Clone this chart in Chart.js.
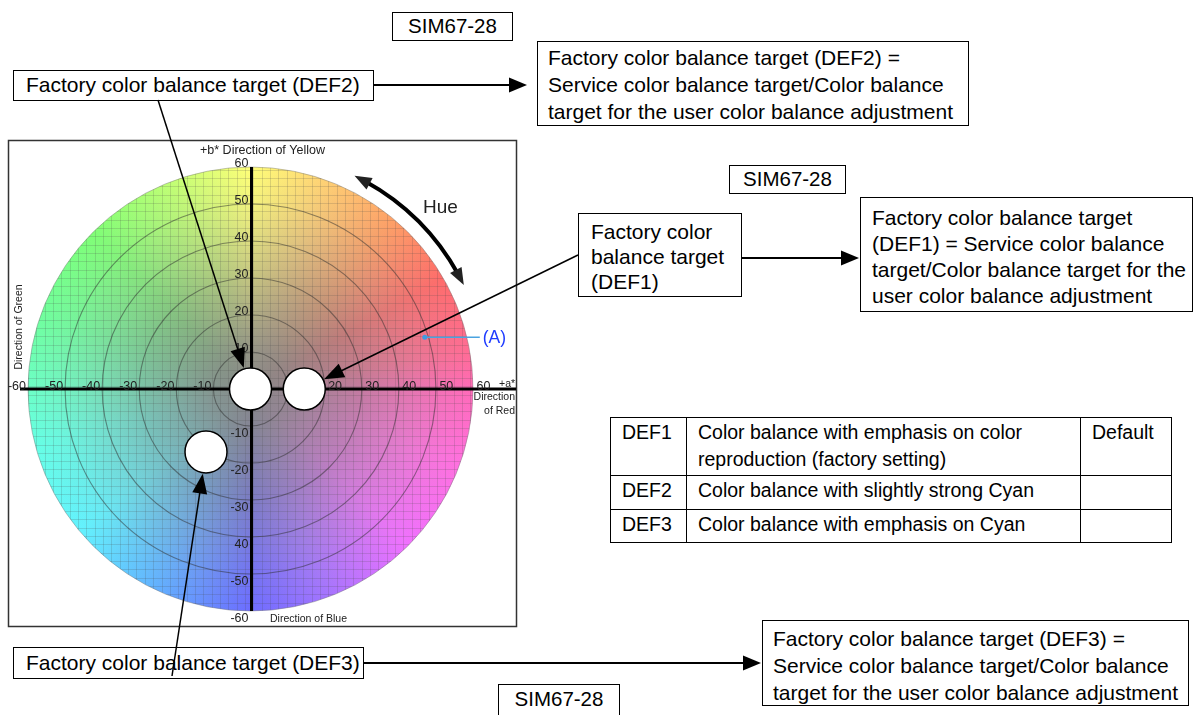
<!DOCTYPE html>
<html>
<head>
<meta charset="utf-8">
<script src="https://cdn.jsdelivr.net/npm/chart.js@4.4.1/dist/chart.umd.min.js"></script>
<style>
  html, body { margin: 0; padding: 0; background: #fff; }
  body { width: 1193px; height: 715px; position: relative; overflow: hidden;
         font-family: "Liberation Sans", Arial, Helvetica, sans-serif; color: #000; }
  #wheel { position: absolute; left: 0; top: 0; z-index: 2; pointer-events: none; }
  .box { position: absolute; border: 1.5px solid #000; box-sizing: border-box;
         font-size: 21px; white-space: nowrap; z-index: 1; }
  .sim { text-align: center; font-size: 20.5px; }
  .grid { position: absolute; left: 610px; top: 417px; width: 562px; height: 126px;
          border: 1.5px solid #000; box-sizing: border-box; z-index: 1;
          display: grid; grid-template-columns: 76px 394px 1fr; grid-template-rows: 58px 34px 1fr;
          font-size: 19.5px; line-height: 27px; }
  .grid div { border-right: 1px solid #000; border-bottom: 1px solid #000; padding: 1px 0 0 11px; white-space: nowrap; }
  .grid div.last { border-right: none; }
  .grid div.bottom { border-bottom: none; }
</style>
</head>
<body>
<canvas id="wheel" width="1193" height="715"></canvas>

<div class="box sim" style="left:392px;top:12px;width:121px;height:29px;line-height:26px;">SIM67-28</div>
<div class="box" style="left:537px;top:41px;width:432px;height:85px;line-height:27px;padding:2px 0 0 10px;">
  Factory color balance target (DEF2) =<br>Service color balance target/Color balance<br>target for the user color balance adjustment</div>
<div class="box" style="left:13px;top:70px;width:361px;height:31px;line-height:28px;padding-left:12px;">Factory color balance target (DEF2)</div>

<div class="box sim" style="left:729px;top:165px;width:117px;height:29px;line-height:26px;">SIM67-28</div>
<div class="box" style="left:578px;top:213px;width:164px;height:84px;line-height:25px;padding:5px 0 0 12px;">
  Factory color<br>balance target<br>(DEF1)</div>
<div class="box" style="left:860px;top:197px;width:333px;height:115px;line-height:26px;padding:7px 0 0 11px;">
  Factory color balance target<br>(DEF1) = Service color balance<br>target/Color balance target for the<br>user color balance adjustment</div>

<div class="grid">
  <div>DEF1</div><div>Color balance with emphasis on color<br>reproduction (factory setting)</div><div class="last">Default</div>
  <div>DEF2</div><div>Color balance with slightly strong Cyan</div><div class="last"></div>
  <div class="bottom">DEF3</div><div class="bottom">Color balance with emphasis on Cyan</div><div class="last bottom"></div>
</div>

<div class="box" style="left:13px;top:647px;width:351px;height:32px;line-height:29px;padding-left:12px;">Factory color balance target (DEF3)</div>
<div class="box" style="left:762px;top:620px;width:427px;height:86px;line-height:27px;padding:4px 0 0 10px;">
  Factory color balance target (DEF3) =<br>Service color balance target/Color balance<br>target for the user color balance adjustment</div>
<div class="box sim" style="left:498px;top:684px;width:122px;height:40px;line-height:28px;">SIM67-28</div>

<script>
// a*b* plane with the three factory colour balance targets
const targetNames = ['DEF1', 'DEF2', 'DEF3'];
const targetA = [14.5, 0, -12];
const targetB = [0, 0, -17];

// point (A) on the outer ring
const markA = [47];
const markB = [14];

const ringRadii = [10, 20, 30, 40, 50];
const wheelRadius = 60;
const hueRadius = 64;
const hueFrom = 26, hueTo = 64;   // degrees, counter-clockwise from +a*

const xTickValues = [-60, -50, -40, -30, -20, -10, 10, 20, 30, 40, 50, 60];
const xTickLabels = ['-60', '-50', '-40', '-30', '-20', '-10', '10', '20', '30', '40', '50', '60'];
const yTickValues = [60, 50, 40, 30, 20, 10, -10, -20, -30, -40, -50, -60];
const yTickLabels = ['60', '50', '40', '30', '20', '10', '-10', '-20', '-30', '40', '-50', '-60'];

// hue ring colours, clockwise from +a* (canvas angle, degrees)
const hueStops = [
  [0, '#ff6ab8'], [20, '#ff70e0'], [45, '#f070ff'], [70, '#a474ff'], [90, '#6c6cff'],
  [115, '#62b0ff'], [140, '#62f2ff'], [165, '#66ffe6'], [180, '#6cffc6'], [200, '#70ff9c'],
  [225, '#80ff76'], [250, '#c4ff74'], [270, '#ffff78'], [290, '#ffd074'], [310, '#ffa066'],
  [330, '#ff6c6a'], [350, '#ff6c94'], [360, '#ff6ab8']
];

// leaders from the text boxes to the targets, page pixels
const leaderStarts = [[578, 255], [158, 100], [172, 676]];
const sideArrows = [[373, 85, 527, 85], [741, 258, 859, 258], [363, 663, 761, 663]];

const targetRadius = 21;

function drawArrow(ctx, x1, y1, x2, y2, len, half, width) {
  const ang = Math.atan2(y2 - y1, x2 - x1);
  const c = Math.cos(ang), s = Math.sin(ang);
  ctx.lineWidth = width;
  ctx.beginPath();
  ctx.moveTo(x1, y1);
  ctx.lineTo(x2 - c * len * 0.8, y2 - s * len * 0.8);
  ctx.stroke();
  ctx.beginPath();
  ctx.moveTo(x2, y2);
  ctx.lineTo(x2 - len * c + half * s, y2 - len * s - half * c);
  ctx.lineTo(x2 - len * c - half * s, y2 - len * s + half * c);
  ctx.closePath();
  ctx.fill();
}

const wheelPlugin = {
  id: 'labWheel',
  beforeDraw(chart) {
    const ctx = chart.ctx;
    ctx.save();
    ctx.strokeStyle = '#333';
    ctx.lineWidth = 1.5;
    ctx.strokeRect(8.5, 140.5, 508, 486);
    ctx.restore();
  },
  beforeDatasetsDraw(chart) {
    const { ctx, scales: { x, y } } = chart;
    const cx = x.getPixelForValue(0), cy = y.getPixelForValue(0);
    const ux = x.getPixelForValue(1) - cx, uy = cy - y.getPixelForValue(1);
    const rx = wheelRadius * ux, ry = wheelRadius * uy;

    ctx.save();
    // hue disc
    const conic = ctx.createConicGradient(0, cx, cy);
    hueStops.forEach(([a, col]) => conic.addColorStop(a / 360, col));
    ctx.beginPath();
    ctx.ellipse(cx, cy, rx, ry, 0, 0, Math.PI * 2);
    ctx.fillStyle = conic;
    ctx.fill();
    // neutral grey towards the centre
    const rad = ctx.createRadialGradient(cx, cy, 0, cx, cy, rx);
    rad.addColorStop(0, 'rgba(136,136,136,1)');
    rad.addColorStop(0.18, 'rgba(136,136,136,0.88)');
    rad.addColorStop(0.5, 'rgba(138,138,138,0.5)');
    rad.addColorStop(0.85, 'rgba(160,160,160,0.12)');
    rad.addColorStop(1, 'rgba(170,170,170,0)');
    ctx.fillStyle = rad;
    ctx.fill();
    ctx.strokeStyle = 'rgba(120,120,120,0.45)';
    ctx.lineWidth = 1;
    ctx.stroke();

    // fine square grid inside the disc
    ctx.clip();
    ctx.strokeStyle = 'rgba(70,70,70,0.18)';
    ctx.lineWidth = 1;
    ctx.beginPath();
    for (let v = -60; v <= 60; v += 2.25) {
      const px = Math.round(x.getPixelForValue(v)) + 0.5;
      const py = Math.round(y.getPixelForValue(v)) + 0.5;
      ctx.moveTo(px, cy - ry); ctx.lineTo(px, cy + ry);
      ctx.moveTo(cx - rx, py); ctx.lineTo(cx + rx, py);
    }
    ctx.stroke();
    ctx.restore();

    // chroma rings
    ctx.save();
    ctx.strokeStyle = 'rgba(45,45,45,0.5)';
    ctx.lineWidth = 1.1;
    ringRadii.forEach(r => {
      ctx.beginPath();
      ctx.ellipse(cx, cy, r * ux, r * uy, 0, 0, Math.PI * 2);
      ctx.stroke();
    });
    ctx.restore();

    // axes
    ctx.save();
    ctx.strokeStyle = '#000';
    ctx.lineWidth = 3;
    ctx.beginPath();
    ctx.moveTo(cx + 1, y.getPixelForValue(wheelRadius));
    ctx.lineTo(cx + 1, y.getPixelForValue(-wheelRadius));
    ctx.stroke();
    ctx.beginPath();
    ctx.moveTo(20, cy);
    ctx.lineTo(516, cy);
    ctx.stroke();

    // tick labels
    ctx.fillStyle = '#222';
    ctx.font = '12.5px "Liberation Sans", Arial, sans-serif';
    ctx.textBaseline = 'alphabetic';
    xTickValues.forEach((v, i) => {
      const px = x.getPixelForValue(v);
      ctx.textAlign = v < 0 ? 'right' : 'left';
      ctx.fillText(xTickLabels[i], v < 0 ? px - 2 : px + 3.5, cy + 0.5);
    });
    ctx.textBaseline = 'middle';
    ctx.textAlign = 'right';
    yTickValues.forEach((v, i) => {
      const py = y.getPixelForValue(v);
      ctx.fillText(yTickLabels[i], cx - 2, v > 0 ? py - 3 : py + 8);
    });

    // axis titles
    ctx.font = '12.5px "Liberation Sans", Arial, sans-serif';
    ctx.textAlign = 'center';
    ctx.fillText('+b* Direction of Yellow', cx + 12, 151);
    ctx.font = '10.5px "Liberation Sans", Arial, sans-serif';
    ctx.textAlign = 'left';
    ctx.fillText('Direction of Blue', 270, 619);
    ctx.fillText('+a*', 499, 384);
    ctx.textAlign = 'right';
    ctx.fillText('Direction', 515, 397);
    ctx.fillText('of Red', 515, 411);
    ctx.save();
    ctx.translate(19, 327);
    ctx.rotate(-Math.PI / 2);
    ctx.textAlign = 'center';
    ctx.fillText('Direction of Green', 0, 0);
    ctx.restore();

    // hue arrow
    const hr = hueRadius * ux;
    const a0 = -hueTo * Math.PI / 180, a1 = -hueFrom * Math.PI / 180;
    ctx.lineWidth = 4;
    ctx.beginPath();
    ctx.arc(cx, cy, hr, a0 + 0.05, a1 - 0.05);
    ctx.stroke();
    [[a0, -1], [a1, 1]].forEach(([a, dir]) => {
      const tx = cx + hr * Math.cos(a), ty = cy + hr * Math.sin(a);
      const bx = cx + hr * Math.cos(a - dir * 0.07), by = cy + hr * Math.sin(a - dir * 0.07);
      drawArrow(ctx, bx, by, tx, ty, 17, 6.5, 0.1);
    });
    ctx.font = '19px "Liberation Sans", Arial, sans-serif';
    ctx.textAlign = 'left';
    ctx.fillText('Hue', 423, 208);

    // (A) call-out
    const ax = x.getPixelForValue(markA[0]), ay = y.getPixelForValue(markB[0]);
    ctx.strokeStyle = '#4aa3e0';
    ctx.lineWidth = 1.5;
    ctx.beginPath();
    ctx.moveTo(ax + 2, ay);
    ctx.lineTo(ax + 55, ay);
    ctx.stroke();
    ctx.fillStyle = '#1f3cff';
    ctx.font = '17.5px "Liberation Sans", Arial, sans-serif';
    ctx.fillText('(A)', ax + 58, ay + 1);
    ctx.restore();
  },
  afterDatasetsDraw(chart) {
    const { ctx, scales: { x, y } } = chart;
    ctx.save();
    ctx.strokeStyle = '#000';
    ctx.fillStyle = '#000';
    targetNames.forEach((name, i) => {
      const mx = x.getPixelForValue(targetA[i]), my = y.getPixelForValue(targetB[i]);
      const [sx, sy] = leaderStarts[i];
      const d = Math.hypot(sx - mx, sy - my);
      const tx = mx + (targetRadius + 1) * (sx - mx) / d;
      const ty = my + (targetRadius + 1) * (sy - my) / d;
      drawArrow(ctx, sx, sy, tx, ty, 20, 7.5, 1.5);
    });
    sideArrows.forEach(([x1, y1, x2, y2]) => drawArrow(ctx, x1, y1, x2, y2, 18, 7.5, 2));
    ctx.restore();
  }
};

new Chart(document.getElementById('wheel'), {
  type: 'scatter',
  data: {
    datasets: [
      {
        label: 'targets',
        data: targetA.map((a, i) => ({ x: a, y: targetB[i] })),
        pointRadius: targetRadius,
        pointBackgroundColor: '#fff',
        pointBorderColor: '#000',
        pointBorderWidth: 1.5
      },
      {
        label: '(A)',
        data: markA.map((a, i) => ({ x: a, y: markB[i] })),
        pointRadius: 2.5,
        pointBackgroundColor: '#3d9be0',
        pointBorderWidth: 0
      }
    ]
  },
  plugins: [wheelPlugin],
  options: {
    responsive: false,
    devicePixelRatio: 1,
    animation: false,
    layout: { padding: { left: 28, right: 720, top: 167, bottom: 104 } },
    scales: {
      x: { type: 'linear', min: -60, max: 60, display: false },
      y: { type: 'linear', min: -60, max: 60, display: false }
    },
    plugins: { legend: { display: false }, tooltip: { enabled: false } }
  }
});
</script>
</body>
</html>
